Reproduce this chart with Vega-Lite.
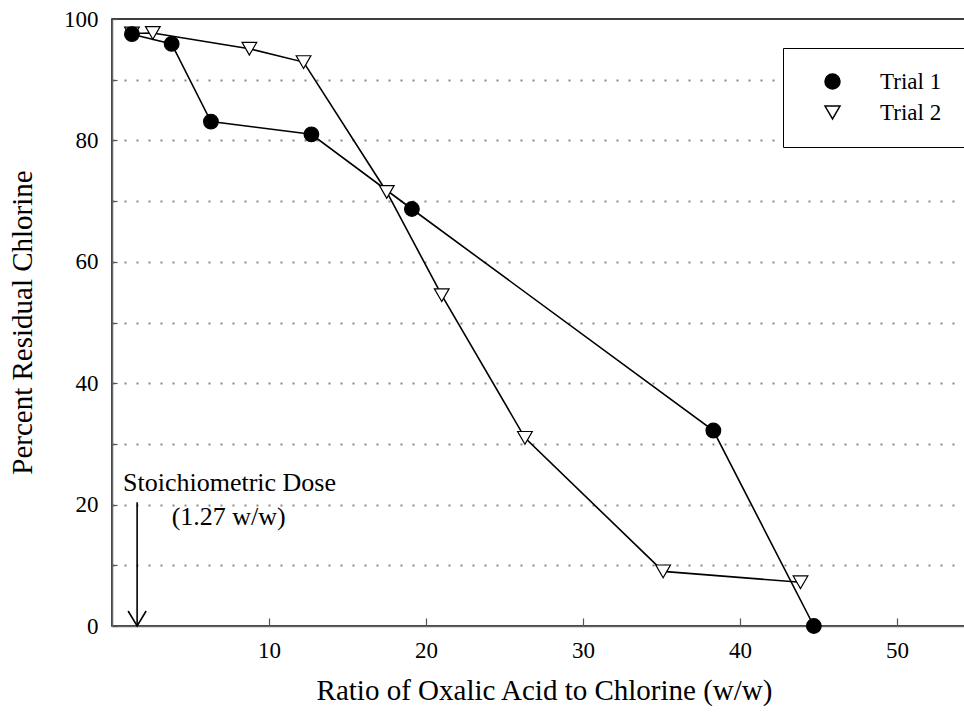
{
  "$schema": "https://vega.github.io/schema/vega-lite/v6.json",
  "autosize": {"type": "none"},
  "padding": {"left": 112, "top": 19, "right": 0, "bottom": 97},
  "width": 900,
  "height": 607,
  "config": {
    "view": {"stroke": "black", "strokeWidth": 1.5},
    "font": "Liberation Serif",
    "axis": {"labelFont": "Liberation Serif", "titleFont": "Liberation Serif", "labelColor": "black", "titleColor": "black", "titleFontWeight": "normal"}
  },
  "datasets": {
    "series": [
      {"trial": "Trial 2", "ratio": 1.27, "residual": 97.6},
      {"trial": "Trial 2", "ratio": 2.6, "residual": 97.7},
      {"trial": "Trial 2", "ratio": 8.75, "residual": 95.1},
      {"trial": "Trial 2", "ratio": 12.2, "residual": 92.9},
      {"trial": "Trial 2", "ratio": 17.5, "residual": 71.5},
      {"trial": "Trial 2", "ratio": 21.0, "residual": 54.5},
      {"trial": "Trial 2", "ratio": 26.3, "residual": 31.0},
      {"trial": "Trial 2", "ratio": 35.1, "residual": 9.0},
      {"trial": "Trial 2", "ratio": 43.85, "residual": 7.2},
      {"trial": "Trial 1", "ratio": 1.27, "residual": 97.5},
      {"trial": "Trial 1", "ratio": 3.8, "residual": 95.9},
      {"trial": "Trial 1", "ratio": 6.3, "residual": 83.1},
      {"trial": "Trial 1", "ratio": 12.7, "residual": 81.0},
      {"trial": "Trial 1", "ratio": 19.1, "residual": 68.7},
      {"trial": "Trial 1", "ratio": 38.3, "residual": 32.2},
      {"trial": "Trial 1", "ratio": 44.7, "residual": 0}
    ],
    "notes": [
      {"label": "Stoichiometric Dose", "ratio": 0.7, "residual": 23.6},
      {"label": "(1.27 w/w)", "ratio": 3.8, "residual": 18.0}
    ],
    "arrow": [
      {"ratio": 1.6, "top": 20.4, "bottom": 0}
    ]
  },
  "layer": [
    {
      "data": {"name": "series"},
      "mark": {"type": "line", "color": "black", "strokeWidth": 1.6},
      "encoding": {
        "x": {
          "field": "ratio", "type": "quantitative",
          "scale": {"domain": [0, 57.32], "nice": false},
          "axis": {
            "values": [10, 20, 30, 40, 50],
            "title": "Ratio of Oxalic Acid to Chlorine (w/w)",
            "titleFontSize": 29,
            "titleX": 432, "titleY": 64, "titleAlign": "center", "titleBaseline": "middle", "titleAnchor": null,
            "labelFontSize": 23,
            "tickSize": -8, "tickColor": "#555", "tickWidth": 1.2,
            "labelPadding": 21,
            "domainColor": "#666", "domainWidth": 1.5,
            "grid": false
          }
        },
        "y": {
          "field": "residual", "type": "quantitative",
          "scale": {"domain": [0, 100], "nice": false},
          "axis": {
            "values": [0, 10, 20, 30, 40, 50, 60, 70, 80, 90, 100],
            "labelExpr": "datum.value % 20 === 0 ? datum.label : ''",
            "title": "Percent Residual Chlorine",
            "titleFontSize": 29,
            "titleX": -90, "titleY": 303, "titleAngle": -90, "titleAlign": "center", "titleBaseline": "middle", "titleAnchor": null,
            "labelFontSize": 23,
            "tickSize": -5, "tickColor": "#555", "tickWidth": 1.2,
            "labelPadding": 19,
            "domainColor": "#666", "domainWidth": 1.5,
            "grid": true,
            "gridColor": "#888",
            "gridWidth": 2,
            "gridDash": [2, 10],
            "gridOpacity": {"condition": {"test": "datum.value === 0 || datum.value === 100", "value": 0}, "value": 1}
          }
        },
        "detail": {"field": "trial", "type": "nominal"}
      }
    },
    {
      "data": {"name": "series"},
      "mark": {"type": "point", "filled": false, "stroke": "black", "strokeWidth": 1.2, "opacity": 1, "size": 215},
      "encoding": {
        "x": {"field": "ratio", "type": "quantitative"},
        "y": {"field": "residual", "type": "quantitative"},
        "fill": {
          "field": "trial", "type": "nominal",
          "scale": {"domain": ["Trial 1", "Trial 2"], "range": ["black", "white"]}
        },
        "shape": {
          "field": "trial", "type": "nominal",
          "scale": {"domain": ["Trial 1", "Trial 2"], "range": ["circle", "triangle-down"]},
          "legend": {
            "title": null,
            "orient": "none",
            "legendX": 671,
            "legendY": 29,
            "strokeColor": "black",
            "fillColor": "white",
            "padding": 22,
            "symbolSize": 225,
            "symbolOffset": 16,
            "labelOffset": 36,
            "rowPadding": 7,
            "labelFont": "Liberation Serif",
            "labelFontSize": 23,
            "labelColor": "black"
          }
        }
      }
    },
    {
      "data": {"name": "arrow"},
      "mark": {"type": "rule", "color": "black", "strokeWidth": 1.6},
      "encoding": {
        "x": {"field": "ratio", "type": "quantitative"},
        "y": {"field": "top", "type": "quantitative"},
        "y2": {"field": "bottom"}
      }
    },
    {
      "data": {"name": "arrow"},
      "mark": {"type": "point", "shape": "M-0.9,-1.5L0,0L0.9,-1.5", "size": 400, "filled": false, "stroke": "black", "strokeWidth": 1.6, "opacity": 1},
      "encoding": {
        "x": {"field": "ratio", "type": "quantitative"},
        "y": {"field": "bottom", "type": "quantitative"}
      }
    },
    {
      "data": {"name": "notes"},
      "mark": {"type": "text", "font": "Liberation Serif", "fontSize": 26, "baseline": "middle", "align": "left", "color": "black"},
      "encoding": {
        "x": {"field": "ratio", "type": "quantitative"},
        "y": {"field": "residual", "type": "quantitative"},
        "text": {"field": "label"}
      }
    }
  ]
}
